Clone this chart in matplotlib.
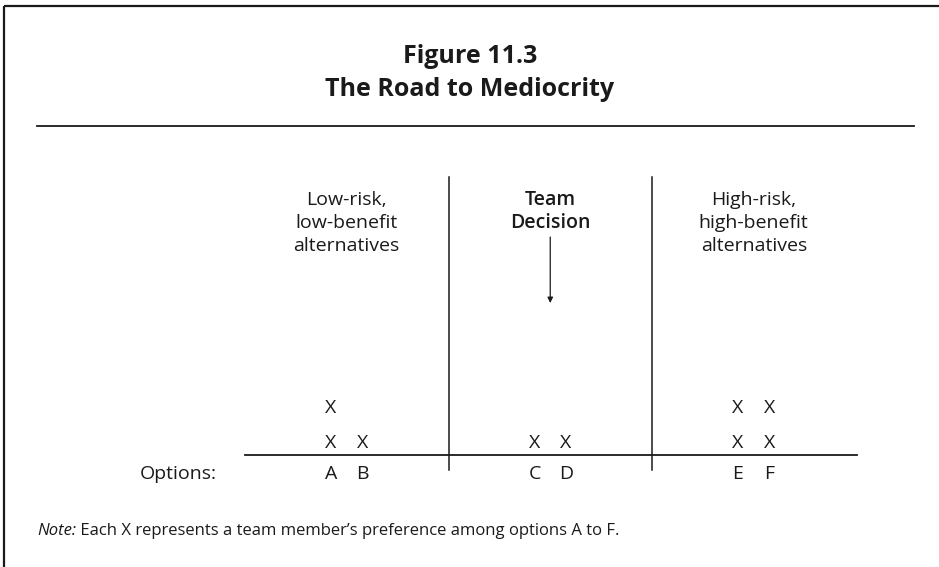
import matplotlib
matplotlib.use("Agg")
import matplotlib.pyplot as plt

# ---- data ----
options = ["A", "B", "C", "D", "E", "F"]
votes = [2, 1, 1, 1, 2, 2]          # number of X marks (team member preferences) per option
groups = ["Low-risk,\nlow-benefit\nalternatives", "Team\nDecision", "High-risk,\nhigh-benefit\nalternatives"]
title_lines = ["Figure 11.3", "The Road to Mediocrity"]
note_label = "Note:"
note_text = " Each X represents a team member\u2019s preference among options A to F."
row_label = "Options:"

FONT = "Open Sans"
INK = "#1a1a1a"
BODY = 14

W, H = 939, 567
fig = plt.figure(figsize=(W / 100, H / 100), dpi=100)
ax = fig.add_axes([0, 0, 1, 1])
ax.set_xlim(0, W)
ax.set_ylim(H, 0)
ax.axis("off")

# frame (top and left)
ax.plot([4, W], [6, 6], color=INK, lw=1.6, solid_capstyle="butt")
ax.plot([4, 4], [6, H], color=INK, lw=1.6, solid_capstyle="butt")

# title
ax.text(470, 63, title_lines[0], ha="center", va="baseline", fontsize=18,
        fontweight="bold", family=FONT, color=INK)
ax.text(470, 96, title_lines[1], ha="center", va="baseline", fontsize=18,
        fontweight="bold", family=FONT, color=INK)
ax.plot([37, 914], [126, 126], color=INK, lw=1.3)

# layout of the option axis
x_first, step_pair, step_group = 331, 31.5, 203.5
xs = []
for i in range(len(options)):
    g, k = divmod(i, 2)
    xs.append(x_first + g * step_group + k * step_pair)
group_centers = [(xs[2 * g] + xs[2 * g + 1]) / 2 for g in range(3)]
dividers = [(xs[1] + xs[2]) / 2, (xs[3] + xs[4]) / 2]

base_y = 455
ax.plot([245, 857], [base_y, base_y], color=INK, lw=1.3)
for dx in dividers:
    ax.plot([dx, dx], [177, 470], color=INK, lw=1.1)

# group headers
for g, label in enumerate(groups):
    for j, line in enumerate(label.split("\n")):
        ax.text(group_centers[g], 205 + 23 * j, line, ha="center", va="baseline",
                fontsize=BODY, family=FONT, color=INK,
                fontweight="semibold" if g == 1 else "normal")

# arrow to team decision
ax.annotate("", xy=(group_centers[1], 303), xytext=(group_centers[1], 237),
            arrowprops=dict(arrowstyle="-|>", color=INK, lw=0.9,
                            mutation_scale=8, shrinkA=0, shrinkB=0))

# X marks
row_gap = 35
for x, n in zip(xs, votes):
    for r in range(n):
        ax.text(x, 448 - r * row_gap, "X", ha="center", va="baseline", fontsize=BODY,
                family=FONT, color=INK)

# option letters
ax.text(217, 479, row_label, ha="right", va="baseline", fontsize=BODY, family=FONT, color=INK)
for x, o in zip(xs, options):
    ax.text(x, 479, o, ha="center", va="baseline", fontsize=BODY, family=FONT, color=INK)

# note
t = ax.text(37, 535, note_label, ha="left", va="baseline", fontsize=12, family=FONT,
            style="italic", color=INK)
fig.canvas.draw()
bb = t.get_window_extent()
inv = ax.transData.inverted()
x_end = inv.transform((bb.x1, bb.y0))[0]
ax.text(x_end, 535, note_text, ha="left", va="baseline", fontsize=12, family=FONT, color=INK)

fig.savefig("out.png", dpi=100, facecolor="white")
